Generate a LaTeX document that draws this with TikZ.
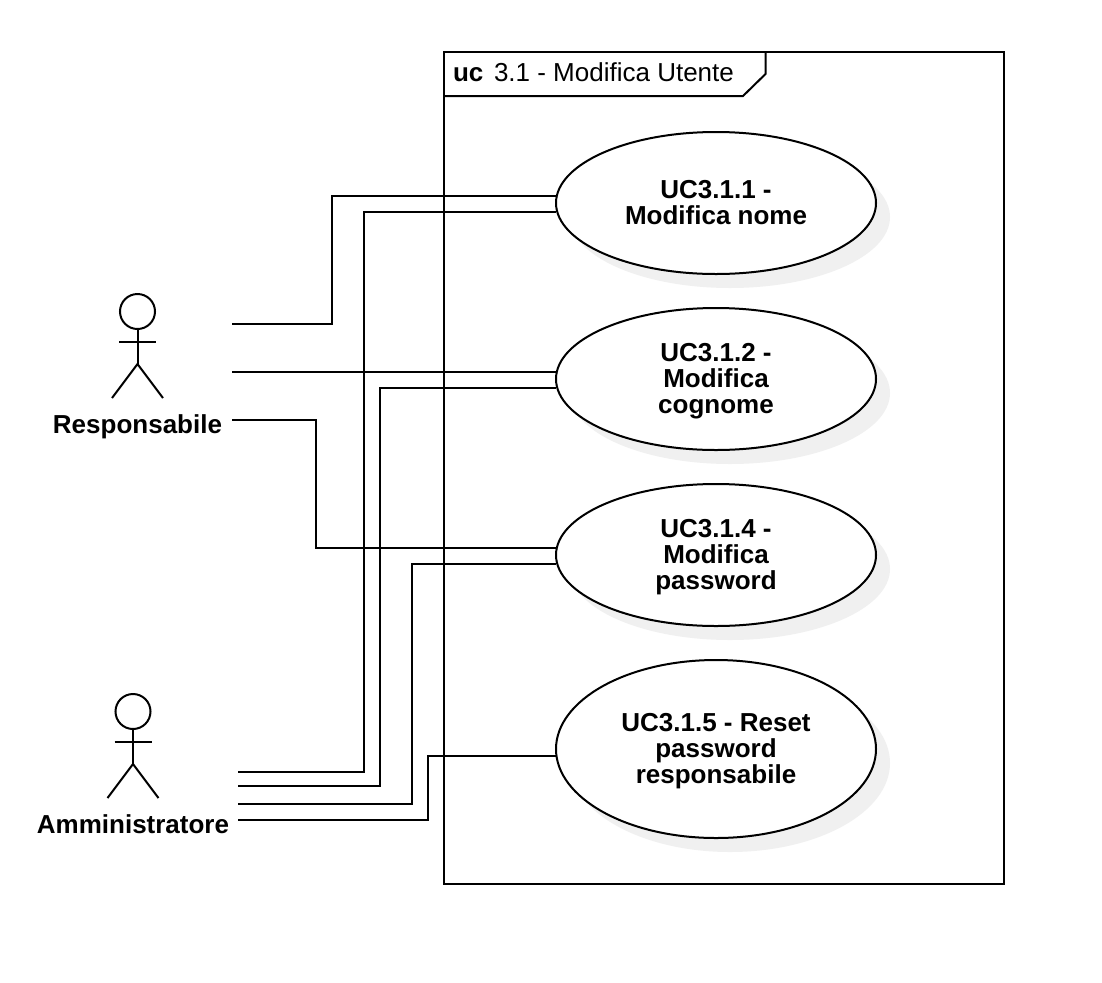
\documentclass[tikz,border=0pt]{standalone}
\usepackage{fontspec}
\setmainfont{Liberation Sans}

\begin{document}
\begin{tikzpicture}[x=0.75pt, y=-0.75pt, line width=1.5pt,
    uclabel/.style={align=center, inner sep=0pt, font=\fontsize{19.5}{19.5}\selectfont\bfseries},
    usecaseshadow/.style={fill=black!6, draw=none},
    actorlabel/.style={font=\fontsize{19.5}{19.5}\selectfont\bfseries, inner sep=0pt, anchor=base},
    framelabel/.style={font=\fontsize{19.5}{19.5}\selectfont, inner sep=0pt, anchor=base west},
    conn/.style={draw=black, line width=1.5pt}]
  \useasboundingbox (0,0) rectangle (1102,982);
  \fill[white] (0,0) rectangle (1102,982);

  % frame
  \draw (444,52) rectangle (1004,884);
  \draw (444,96) -- (743,96) -- (765.5,74) -- (765.5,52);
  \node[framelabel, font=\fontsize{19.5}{19.5}\selectfont\bfseries] (frameuc) at (452,81) {uc};
  \node[framelabel] (frametitle) at (493,81) {3.1 - Modifica Utente};

  % shadows
  \fill[usecaseshadow] (730,217) ellipse (160 and 71);
  \fill[usecaseshadow] (730,393) ellipse (160 and 71);
  \fill[usecaseshadow] (730,569) ellipse (160 and 71);
  \fill[usecaseshadow] (730,763) ellipse (160 and 89);

  % connector end points
  \coordinate (respa) at (232,324);
  \coordinate (respb) at (232,372);
  \coordinate (respc) at (232,420);
  \coordinate (amma) at (238,772);
  \coordinate (ammb) at (238,786);
  \coordinate (ammc) at (238,804);
  \coordinate (ammd) at (238,820);
  \coordinate (uca) at (556,196);
  \coordinate (ucb) at (556,212);
  \coordinate (ucc) at (556,372);
  \coordinate (ucd) at (556,388);
  \coordinate (uce) at (556,548);
  \coordinate (ucf) at (556,564);
  \coordinate (ucg) at (556,756);

  % connectors
  \draw[conn] (respa) -| (332,196) -- (uca);
  \draw[conn] (respb) -- (ucc);
  \draw[conn] (respc) -| (316,548) -- (uce);
  \draw[conn] (amma) -| (364,212) -- (ucb);
  \draw[conn] (ammb) -| (380,388) -- (ucd);
  \draw[conn] (ammc) -| (412,564) -- (ucf);
  \draw[conn] (ammd) -| (428,756) -- (ucg);

  % use cases
  \draw[fill=white] (716,203) ellipse (160 and 71);
  \draw[fill=white] (716,379) ellipse (160 and 71);
  \draw[fill=white] (716,555) ellipse (160 and 71);
  \draw[fill=white] (716,749) ellipse (160 and 89);
  \node[uclabel] (ucnome) at (716,203) {UC3.1.1 -\\Modifica nome};
  \node[uclabel] (uccognome) at (716,381) {UC3.1.2 -\\Modifica\\cognome};
  \node[uclabel] (ucpassword) at (716,557) {UC3.1.4 -\\Modifica\\password};
  \node[uclabel] (ucreset) at (716,751) {UC3.1.5 - Reset\\password\\responsabile};

  % actors
  \draw (137.5,311.5) circle (17.5);
  \draw (137.5,329) -- (137.5,364);
  \draw (119,342) -- (156,342);
  \draw (112,398) -- (137.5,364) -- (163,398);
  \node[actorlabel] (responsabile) at (137.5,433) {Responsabile};
  \draw (133,711.5) circle (17.5);
  \draw (133,729) -- (133,764);
  \draw (114.5,742) -- (151.5,742);
  \draw (107.5,798) -- (133,764) -- (158.5,798);
  \node[actorlabel] (amministratore) at (133,833) {Amministratore};
\end{tikzpicture}
\end{document}
